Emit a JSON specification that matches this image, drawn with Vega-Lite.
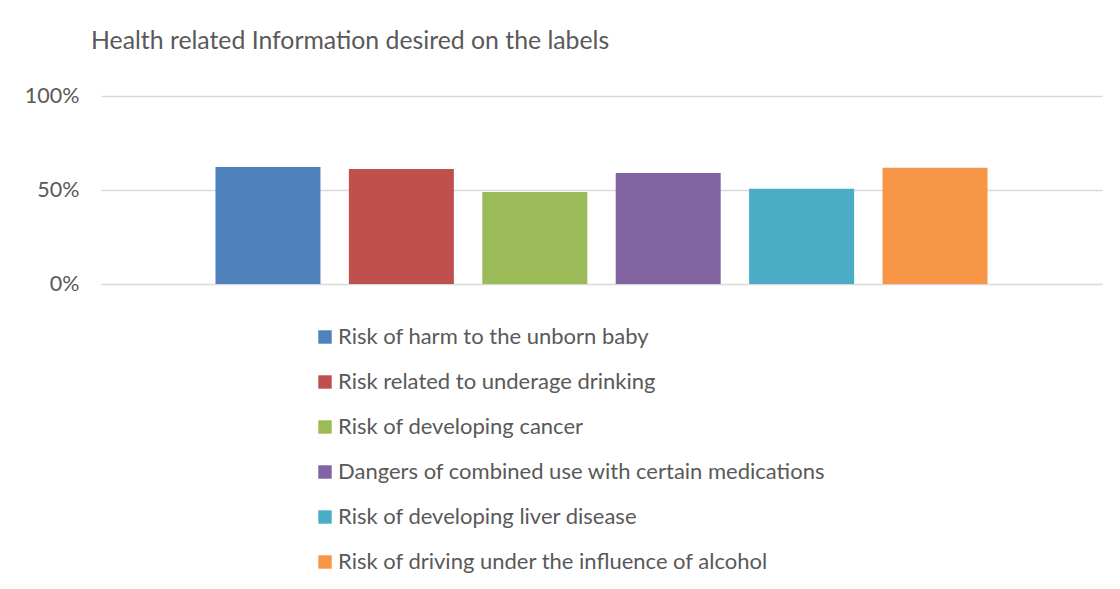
{
  "$schema": "https://vega.github.io/schema/vega-lite/v6.json",
  "width": 1001,
  "height": 188,
  "autosize": {"type": "none"},
  "padding": {"left": 101, "top": 96, "right": 18, "bottom": 305},
  "background": "white",
  "title": {
    "text": "Health related Information desired on the labels",
    "anchor": "start",
    "frame": "group",
    "dx": -10,
    "offset": 31,
    "fontSize": 24.8,
    "font": "Lato",
    "fontWeight": "normal",
    "color": "#595959"
  },
  "data": {
    "values": [
      {"item": "Risk of harm to the unborn baby", "pct": 0.623},
      {"item": "Risk related to underage drinking", "pct": 0.612},
      {"item": "Risk of developing cancer", "pct": 0.49},
      {"item": "Dangers of combined use with certain medications", "pct": 0.591},
      {"item": "Risk of developing liver disease", "pct": 0.506},
      {"item": "Risk of driving under the influence of alcohol", "pct": 0.618}
    ]
  },
  "mark": {"type": "bar"},
  "encoding": {
    "x": {
      "field": "item",
      "type": "nominal",
      "sort": null,
      "axis": null,
      "scale": {"paddingInner": 0.213, "paddingOuter": 0.858}
    },
    "y": {
      "field": "pct",
      "type": "quantitative",
      "scale": {"domain": [0, 1]},
      "axis": {
        "values": [0, 0.5, 1],
        "format": "%",
        "title": null,
        "ticks": false,
        "domain": false,
        "labelPadding": 22,
        "labelFontSize": 21.5,
        "labelFont": "Lato",
        "labelColor": "#595959",
        "gridColor": "#d9d9d9",
        "gridWidth": 1.5
      }
    },
    "color": {
      "field": "item",
      "type": "nominal",
      "sort": null,
      "scale": {
        "domain": [
          "Risk of harm to the unborn baby",
          "Risk related to underage drinking",
          "Risk of developing cancer",
          "Dangers of combined use with certain medications",
          "Risk of developing liver disease",
          "Risk of driving under the influence of alcohol"
        ],
        "range": ["#4F81BD", "#C0504D", "#9BBB59", "#8064A2", "#4BACC6", "#F79646"]
      },
      "legend": {
        "orient": "none",
        "legendX": 213,
        "legendY": 230,
        "direction": "vertical",
        "title": null,
        "symbolType": "square",
        "symbolSize": 180,
        "symbolStrokeWidth": 0,
        "labelFontSize": 22,
        "labelFont": "Lato",
        "labelColor": "#595959",
        "rowPadding": 23,
        "labelOffset": 2,
        "labelLimit": 0,
        "padding": 0
      }
    }
  },
  "config": {"view": {"stroke": null}}
}
